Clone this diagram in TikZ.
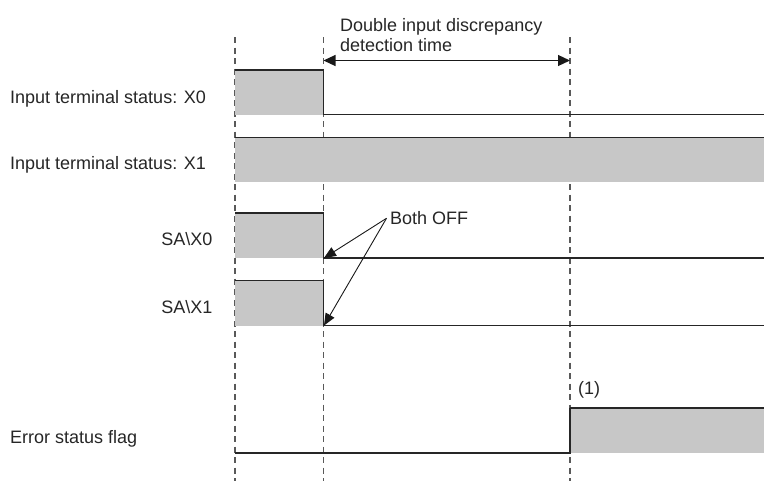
\documentclass[tikz,border=0pt]{standalone}
\usepackage{fontspec}
\setmainfont{Liberation Sans}
\usetikzlibrary{arrows.meta}
\begin{document}
\begin{tikzpicture}[x=1pt,y=-1pt,
  lbl/.style={font=\fontsize{18}{21}\selectfont, inner sep=0pt, text=black!85},
  grid/.style={dash pattern=on 6pt off 4.5pt, line width=1.2pt, black!65},
  sig/.style={line width=1.2pt, black!85},
  hi/.style={fill=black!22, draw=none},
  tip/.style={-{Triangle[length=12pt,width=10pt]}, line width=0.9pt, black!90}]
\useasboundingbox (0,0) rectangle (764,483);
% dashed time markers
\foreach \x in {235,323.5,570} \draw[grid] (\x,37) -- (\x,481);
% X0
\fill[hi] (235,70) rectangle (323.5,114.5);
\draw[sig] (235,70) -- (323.5,70) -- (323.5,114.5) -- (764,114.5);
% X1
\fill[hi] (235,137.5) rectangle (764,182);
\draw[sig] (235,137.5) -- (764,137.5);
% SA\X0
\fill[hi] (235,213) rectangle (323.5,258);
\draw[sig] (235,213) -- (323.5,213) -- (323.5,258) -- (764,258);
% SA\X1
\fill[hi] (235,280.5) rectangle (323.5,325.5);
\draw[sig] (235,280.5) -- (323.5,280.5) -- (323.5,325.5) -- (764,325.5);
% Error flag
\fill[hi] (570,408) rectangle (764,453);
\draw[sig] (235,453) -- (570,453) -- (570,408);
\draw[line width=2pt, black!85] (570,408) -- (764,408);
% labels
\node[lbl, anchor=base west] (lx0) at (10,103.3) {Input terminal status: X0};
\node[lbl, anchor=base west] (lx1) at (10,169.3) {Input terminal status: X1};
\node[lbl, anchor=base east] (lsa0) at (212.5,245) {SA\textbackslash X0};
\node[lbl, anchor=base east] (lsa1) at (212.5,313) {SA\textbackslash X1};
\node[lbl, anchor=base west] (lerr) at (10,443) {Error status flag};
\node[lbl, anchor=base west] (l1) at (578,394.5) {(1)};
% detection time
\coordinate (ta) at (323.5,60.5);
\coordinate (tb) at (570,60.5);
\draw[{Triangle[length=12pt,width=11pt]}-{Triangle[length=12pt,width=11pt]}, line width=1.2pt, black!90] (ta) -- (tb);
\node[lbl, anchor=base west] (det1) at (340,31.7) {Double input discrepancy};
\node[lbl, anchor=base west] (det2) at (340,51) {detection time};
% Both OFF
\node[lbl, anchor=base west] (both) at (390,224.3) {Both OFF};
\coordinate (bo) at (386.5,218.3);
\coordinate (e0) at (324,258);
\coordinate (e1) at (324,325.5);
\draw[tip] (bo) -- (e0);
\draw[tip] (bo) -- (e1);
\end{tikzpicture}
\end{document}
